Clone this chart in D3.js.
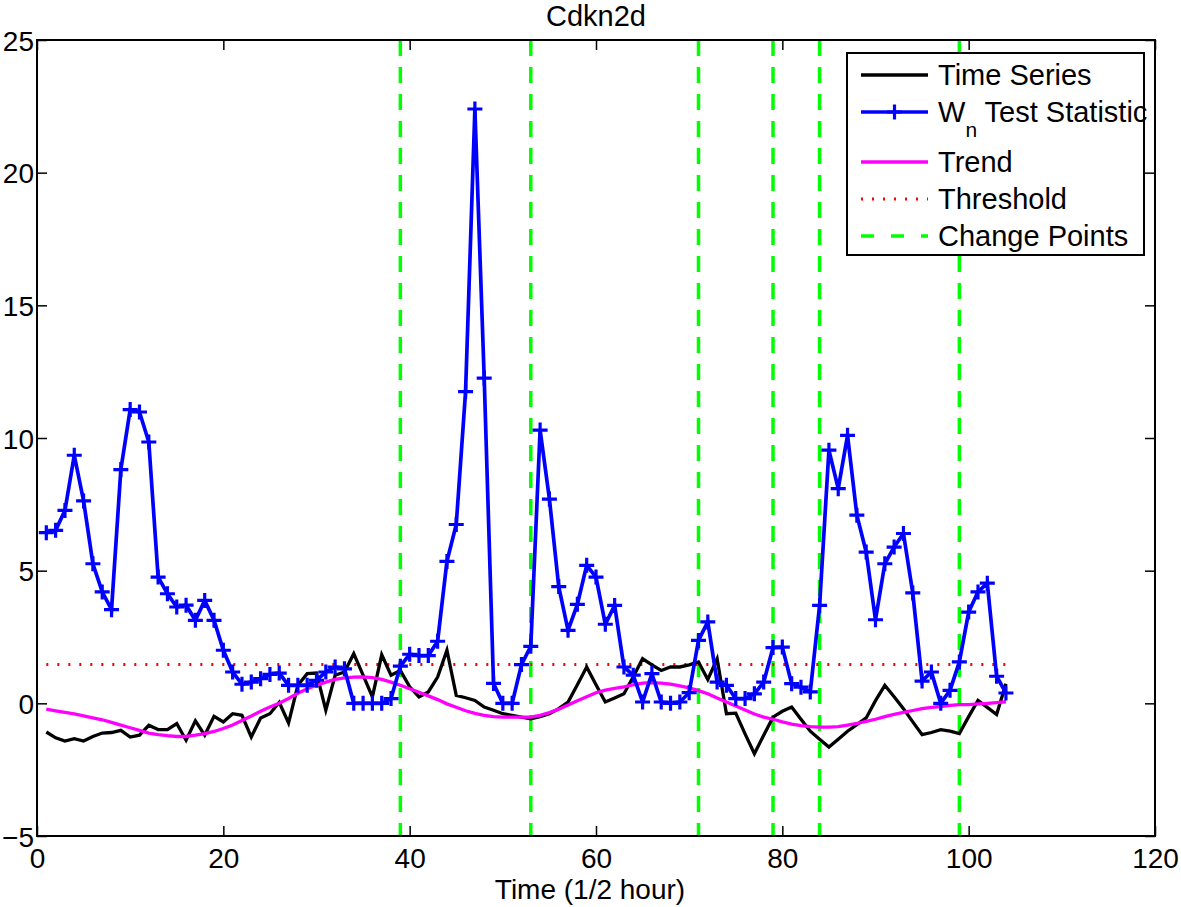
<!DOCTYPE html>
<html>
<head>
<meta charset="utf-8">
<script src="https://cdn.jsdelivr.net/npm/d3@7"></script>
<style>
  html, body { margin: 0; padding: 0; background: #fff; }
  svg { display: block; font-family: "Liberation Sans", Arial, Helvetica, sans-serif; }
</style>
</head>
<body>
<svg id="chart" width="1181" height="907"></svg>
<script>
// ---- Data ----
const timeIndex = d3.range(1, 105);
const timeSeries = [
  -1.08, -1.3, -1.42, -1.33, -1.42, -1.25, -1.12, -1.1, -1.02, -1.27,
  -1.2, -0.83, -0.99, -0.99, -0.76, -1.39, -0.66, -1.2, -0.49, -0.7,
  -0.39, -0.45, -1.27, -0.55, -0.39, 0.04, -0.74, 0.68, 1.12, 1.14,
  -0.26, 1.06, 1.18, 1.87, 1.06, 0.24, 1.83, 1.06, 1.24, 0.62,
  0.24, 0.43, 0.99, 2.0, 0.3, 0.21, 0.11, -0.14, -0.26, -0.39,
  -0.45, -0.52, -0.58, -0.5, -0.39, -0.2, 0.05, 0.7, 1.37, 0.7,
  0.05, 0.2, 0.36, 1.0, 1.68, 1.45, 1.24, 1.37, 1.37, 1.45,
  1.56, 0.9, 1.68, -0.39, -0.37, -1.15, -1.9, -1.2, -0.52, -0.3,
  -0.14, -0.6, -1.05, -1.35, -1.65, -1.35, -1.05, -0.8, -0.55, 0.1,
  0.68, 0.25, -0.2, -0.7, -1.18, -1.1, -0.99, -1.05, -1.14, -0.5,
  0.11, -0.15, -0.42, 0.74
];
const wnStatistic = [
  6.43, 6.52, 7.27, 9.35, 7.63, 5.26, 4.2, 3.53, 8.81, 11.07,
  10.98, 9.85, 4.76, 4.13, 3.63, 3.7, 3.13, 3.88, 3.13, 2.0,
  1.18, 0.72, 0.8, 0.93, 1.09, 1.14, 0.68, 0.68, 0.68, 0.87,
  1.18, 1.37, 1.3, 0, 0, 0, 0, 0.18, 1.4, 1.85,
  1.8, 1.8, 2.34, 5.35, 6.74, 11.75, 22.4, 12.26, 0.75, 0,
  0, 1.46, 2.15, 10.3, 7.7, 4.4, 2.75, 3.73, 5.2, 4.76,
  2.98, 3.69, 1.37, 1.06, 0.05, 1.12, 0.05, 0, 0.05, 0.4,
  2.37, 3.07, 0.8, 0.68, 0.18, 0.18, 0.36, 0.8, 2.1, 2.12,
  0.74, 0.61, 0.43, 3.69, 9.54, 8.09, 10.1, 7.09, 5.7, 3.15,
  5.26, 5.89, 6.4, 4.16, 0.84, 1.18, 0.0, 0.49, 1.56, 3.44,
  4.2, 4.53, 1.02, 0.39
];
const trend = [
  -0.22, -0.28, -0.34, -0.40, -0.47, -0.55, -0.62, -0.72, -0.82, -0.92,
  -1.02, -1.12, -1.18, -1.22, -1.25, -1.25, -1.2, -1.14, -1.06, -0.95,
  -0.82, -0.65, -0.48, -0.3, -0.14, 0.0, 0.18, 0.38, 0.55, 0.68,
  0.8, 0.9, 0.96, 0.99, 1.0, 0.97, 0.9, 0.8, 0.68, 0.55,
  0.42, 0.28, 0.14, -0.02, -0.15, -0.28, -0.38, -0.45, -0.5, -0.52,
  -0.52, -0.52, -0.52, -0.45, -0.35, -0.22, -0.06, 0.1, 0.25, 0.4,
  0.5, 0.56, 0.62, 0.7, 0.76, 0.78, 0.76, 0.72, 0.66, 0.58,
  0.48, 0.36, 0.2, 0.05, -0.1, -0.25, -0.4, -0.52, -0.6, -0.7,
  -0.78, -0.84, -0.88, -0.9, -0.9, -0.88, -0.82, -0.76, -0.68, -0.6,
  -0.5, -0.42, -0.34, -0.27, -0.2, -0.15, -0.12, -0.08, -0.05, -0.05,
  -0.02, 0.0, 0.03, 0.06
];
const thresholdValue = 1.46;
const changePoints = [39, 53, 71, 79, 84, 99];
const xTicks = [0, 20, 40, 60, 80, 100, 120];
const yTicks = [-5, 0, 5, 10, 15, 20, 25];
const legendLabels = ["Time Series", "W_n Test Statistic", "Trend", "Threshold", "Change Points"];
const titleText = "Cdkn2d";
const xLabelText = "Time (1/2 hour)";

// ---- Layout ----
const svg = d3.select("#chart");
const L = 37, R = 1155, T = 40, B = 836;
const x = d3.scaleLinear().domain([0, 120]).range([L, R]);
const y = d3.scaleLinear().domain([-5, 25]).range([B, T]);
const FONT = 29;
const TICKFONT = 28;

svg.append("defs").append("clipPath").attr("id", "plotclip")
  .append("rect").attr("x", L).attr("y", T).attr("width", R - L).attr("height", B - T);

const plot = svg.append("g").attr("clip-path", "url(#plotclip)");

// change points
plot.selectAll("line.cp").data(changePoints).enter().append("line")
  .attr("class", "cp")
  .attr("x1", d => x(d)).attr("x2", d => x(d))
  .attr("y1", y(25)).attr("y2", y(-5))
  .attr("stroke", "#00ff00").attr("stroke-width", 3.5)
  .attr("stroke-dasharray", "16,11");

// threshold
plot.append("line")
  .attr("x1", x(timeIndex[0])).attr("x2", x(timeIndex[timeIndex.length - 1]))
  .attr("y1", y(thresholdValue)).attr("y2", y(thresholdValue))
  .attr("stroke", "#ff0000").attr("stroke-width", 3)
  .attr("stroke-dasharray", "2,9");

const line = d3.line().x((d, i) => x(timeIndex[i])).y(d => y(d));

// time series
plot.append("path").datum(timeSeries)
  .attr("d", line).attr("fill", "none")
  .attr("stroke", "#000").attr("stroke-width", 3.3);

// trend
plot.append("path").datum(trend)
  .attr("d", line).attr("fill", "none")
  .attr("stroke", "#ff00ff").attr("stroke-width", 3.3);

// Wn
plot.append("path").datum(wnStatistic)
  .attr("d", line).attr("fill", "none")
  .attr("stroke", "#0000ff").attr("stroke-width", 3.7);

const plusSize = 7.5;
const plusPath = (cx, cy) => `M${cx - plusSize},${cy}H${cx + plusSize}M${cx},${cy - plusSize}V${cy + plusSize}`;
plot.selectAll("path.mk").data(wnStatistic).enter().append("path")
  .attr("class", "mk")
  .attr("d", (d, i) => plusPath(x(timeIndex[i]), y(d)))
  .attr("stroke", "#0000ff").attr("stroke-width", 3.2).attr("fill", "none");

// axes box
const axisG = svg.append("g");
const tickLen = 10;
axisG.append("rect").attr("x", L).attr("y", T).attr("width", R - L).attr("height", B - T)
  .attr("fill", "none").attr("stroke", "#000").attr("stroke-width", 2);

const xAxis = d3.axisBottom(x).tickValues(xTicks).tickSize(-tickLen).tickPadding(12).tickFormat(d3.format("d"));
const gx = axisG.append("g").attr("transform", `translate(0,${B})`).call(xAxis);
const xAxisTop = d3.axisTop(x).tickValues(xTicks).tickSize(-tickLen).tickFormat("");
const gxt = axisG.append("g").attr("transform", `translate(0,${T})`).call(xAxisTop);
const yAxis = d3.axisLeft(y).tickValues(yTicks).tickSize(-tickLen).tickPadding(3)
  .tickFormat(d => d < 0 ? "\u2212" + Math.abs(d) : d);
const gy = axisG.append("g").attr("transform", `translate(${L},0)`).call(yAxis);
const yAxisRight = d3.axisRight(y).tickValues(yTicks).tickSize(-tickLen).tickFormat("");
const gyr = axisG.append("g").attr("transform", `translate(${R},0)`).call(yAxisRight);

[gx, gxt, gy, gyr].forEach(g => {
  g.select(".domain").remove();
  g.selectAll(".tick line").attr("stroke", "#000").attr("stroke-width", 1.5);
  g.selectAll("text").attr("fill", "#000").style("font-size", TICKFONT + "px")
    .style("font-family", "'Liberation Sans', Arial, sans-serif");
});
gx.selectAll("text").attr("dy", "0.71em");
gy.selectAll("text").attr("dy", "0.36em").attr("x", -3);

// title and x label
svg.append("text").attr("x", (L + R) / 2).attr("y", 26)
  .attr("text-anchor", "middle").style("font-size", FONT + "px").text(titleText);
svg.append("text").attr("x", (L + R) / 2 - 6).attr("y", 899)
  .attr("text-anchor", "middle").style("font-size", "28px").text(xLabelText);

// legend
const lg = svg.append("g");
lg.append("rect").attr("x", 847).attr("y", 53).attr("width", 297).attr("height", 202)
  .attr("fill", "#fff").attr("stroke", "#000").attr("stroke-width", 2);
const legendY = [75, 112, 162, 199, 236];
const sx1 = 861, sx2 = 928, tx = 938;
const styles = [
  { stroke: "#000", w: 3.3, dash: null },
  { stroke: "#0000ff", w: 3.7, dash: null, marker: true },
  { stroke: "#ff00ff", w: 3.3, dash: null },
  { stroke: "#ff0000", w: 3, dash: "2,9" },
  { stroke: "#00ff00", w: 3.5, dash: "13,17" }
];
legendLabels.forEach((lab, i) => {
  const st = styles[i];
  const ly = legendY[i];
  const ln = lg.append("line").attr("x1", sx1).attr("x2", sx2).attr("y1", ly).attr("y2", ly)
    .attr("stroke", st.stroke).attr("stroke-width", st.w);
  if (st.dash) ln.attr("stroke-dasharray", st.dash);
  if (st.marker) {
    lg.append("path").attr("d", plusPath((sx1 + sx2) / 2, ly))
      .attr("stroke", st.stroke).attr("stroke-width", 3.2).attr("fill", "none");
  }
  const t = lg.append("text").attr("x", tx).attr("y", ly).attr("dy", "0.35em")
    .style("font-size", FONT + "px");
  if (lab.indexOf("_") >= 0) {
    const parts = lab.split("_");
    const sub = parts[1].split(" ")[0];
    const rest = parts[1].slice(sub.length);
    t.append("tspan").text(parts[0]);
    t.append("tspan").attr("dy", 15).style("font-size", "21px").text(sub);
    t.append("tspan").attr("dy", -15).text(rest);
  } else {
    t.text(lab);
  }
});
</script>
</body>
</html>
